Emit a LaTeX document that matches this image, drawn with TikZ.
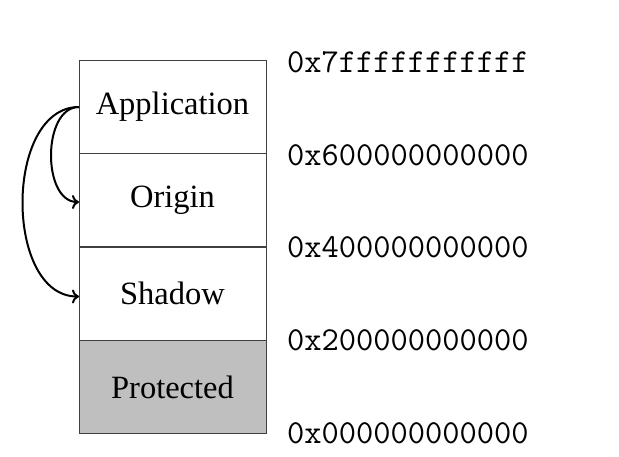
\documentclass[tikz,border=0pt]{standalone}
\usepackage{fontspec}
\setmainfont{Liberation Serif}
\usetikzlibrary{arrows.meta}
\begin{document}
\begin{tikzpicture}[x=1pt,y=-1pt,
  region/.style={draw=black!75, line width=1pt, minimum width=187pt, minimum height=93.5pt,
    inner sep=0pt, outer sep=0pt, font=\fontsize{32.5}{34}\selectfont},
  addr/.style={anchor=west, inner sep=0pt, font=\ttfamily\fontsize{33.5}{35}\selectfont},
  link/.style={line width=2pt, -{To[length=7pt,width=14pt]}}]
\useasboundingbox (0,0) rectangle (619,456);
\node[region] (app) at (172.5,107) {Application};
\node[region] (orig) at (172.5,200.5) {Origin};
\node[region] (shad) at (172.5,293.5) {Shadow};
\node[region, fill=black!25] (prot) at (172.5,387) {Protected};
\node[addr] (a7) at (287,62) {0x7fffffffffff};
\node[addr] (a6) at (287,155) {0x600000000000};
\node[addr] (a4) at (287,247) {0x400000000000};
\node[addr] (a2) at (287,340) {0x200000000000};
\node[addr] (a0) at (287,433) {0x000000000000};
\coordinate (s) at (app.west);
\draw[link] (s) .. controls +(-37,0) and +(-37,0) .. ([yshift=-1.5pt]orig.west);
\draw[link] (s) .. controls +(-75,0) and +(-75,0) .. ([yshift=-3pt]shad.west);
\end{tikzpicture}
\end{document}
